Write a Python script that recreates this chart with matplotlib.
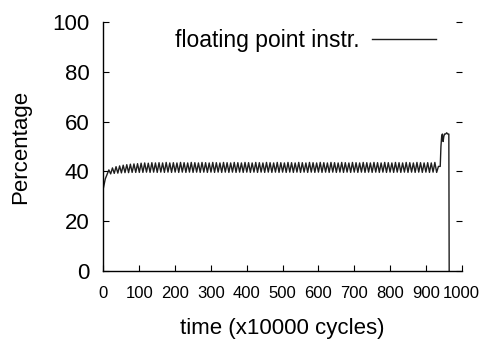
import numpy as np
import matplotlib
matplotlib.use("Agg")
import matplotlib.pyplot as plt

plt.rcParams['font.family'] = ['Liberation Sans', 'DejaVu Sans']

# Floating point instruction share, sampled every 5 time units
fp_start = [33.5, 37.0, 38.8, 40.6, 39.0, 41.4, 39.2, 41.9, 39.3, 42.2,
            39.4, 42.5, 39.5, 42.7, 39.5, 42.9, 39.6, 43.0, 39.6, 43.1,
            39.6]
fp_steady = [
    43.3, 39.6, 43.4, 39.7, 43.3, 39.6, 43.5, 39.7, 43.4, 39.6,
    43.5, 39.7, 43.4, 39.6, 43.6, 39.7, 43.4, 39.6, 43.5, 39.7,
    43.4, 39.6, 43.6, 39.7, 43.5, 39.6, 43.4, 39.7, 43.6, 39.6,
    43.5, 39.7, 43.4, 39.6, 43.6, 39.7, 43.5, 39.6, 43.4, 39.7,
    43.6, 39.6, 43.5, 39.7, 43.4, 39.6, 43.6, 39.7, 43.5, 39.6,
    43.4, 39.7, 43.6, 39.6, 43.5, 39.7, 43.4, 39.6, 43.6, 39.7,
    43.5, 39.6, 43.4, 39.7, 43.6, 39.6, 43.5, 39.7, 43.4, 39.6,
    43.6, 39.7, 43.5, 39.6, 43.4, 39.7, 43.6, 39.6, 43.5, 39.7,
    43.4, 39.6, 43.6, 39.7, 43.5, 39.6, 43.4, 39.7, 43.6, 39.6,
    43.5, 39.7, 43.4, 39.6, 43.6, 39.7, 43.5, 39.6, 43.4, 39.7,
    43.6, 39.6, 43.5, 39.7, 43.4, 39.6, 43.6, 39.7, 43.5, 39.6,
    43.4, 39.7, 43.6, 39.6, 43.5, 39.7, 43.4, 39.6, 43.6, 39.7,
    43.5, 39.6, 43.4, 39.7, 43.6, 39.6, 43.5, 39.7, 43.4, 39.6,
    43.6, 39.7, 43.5, 39.6, 43.4, 39.7, 43.6, 39.6, 43.5, 39.7,
    43.4, 39.6, 43.6, 39.7, 43.5, 39.6, 43.4, 39.7, 43.6, 39.6,
    43.5, 39.7, 43.4, 39.6, 43.6, 39.7, 43.5, 39.6, 43.4, 39.7,
    43.5, 39.6, 43.4, 39.7, 43.6, 39.6, 42.0,
]
# Final phase: jump up, then the run ends
tail_time = [940, 942, 944, 946, 948, 950, 952, 955, 958, 961, 964, 965]
tail_value = [42.0, 50.0, 54.0, 55.0, 52.0, 54.0, 55.0, 55.0, 55.5, 55.0, 55.0, 0.0]

fp_values = fp_start + fp_steady
fp_time = [5 * i for i in range(len(fp_values))] + tail_time
fp_values = fp_values + tail_value

x_ticks = [0, 100, 200, 300, 400, 500, 600, 700, 800, 900, 1000]
y_ticks = [0, 20, 40, 60, 80, 100]

fig = plt.figure(figsize=(4.85, 3.43), dpi=100)
ax = fig.add_axes([0.2134, 0.2099, 0.7386, 0.726])

ax.plot(fp_time, fp_values, color='#1e1e1e', linewidth=1.0,
        label='floating point instr.')

ax.set_xlim(0, 1000)
ax.set_ylim(0, 100)
ax.set_xticks(x_ticks)
ax.set_yticks(y_ticks)
ax.tick_params(axis='x', direction='in', length=4, width=0.8, labelsize=12, pad=11)
ax.tick_params(axis='y', direction='in', length=4, width=0.8, labelsize=16, pad=10,
               right=True)
ax.spines['top'].set_visible(False)
ax.spines['right'].set_visible(False)
for s in ('left', 'bottom'):
    ax.spines[s].set_linewidth(1.0)

ax.set_xlabel('time (x10000 cycles)', fontsize=16, labelpad=12)
ax.set_ylabel('Percentage', fontsize=16, labelpad=15)

leg = ax.legend(loc='upper right', bbox_to_anchor=(0.953, 1.01), frameon=False,
                markerfirst=False, fontsize=16.5, handlelength=2.8,
                handletextpad=0.5, borderaxespad=0)

fig.savefig('out.png', dpi=100)
